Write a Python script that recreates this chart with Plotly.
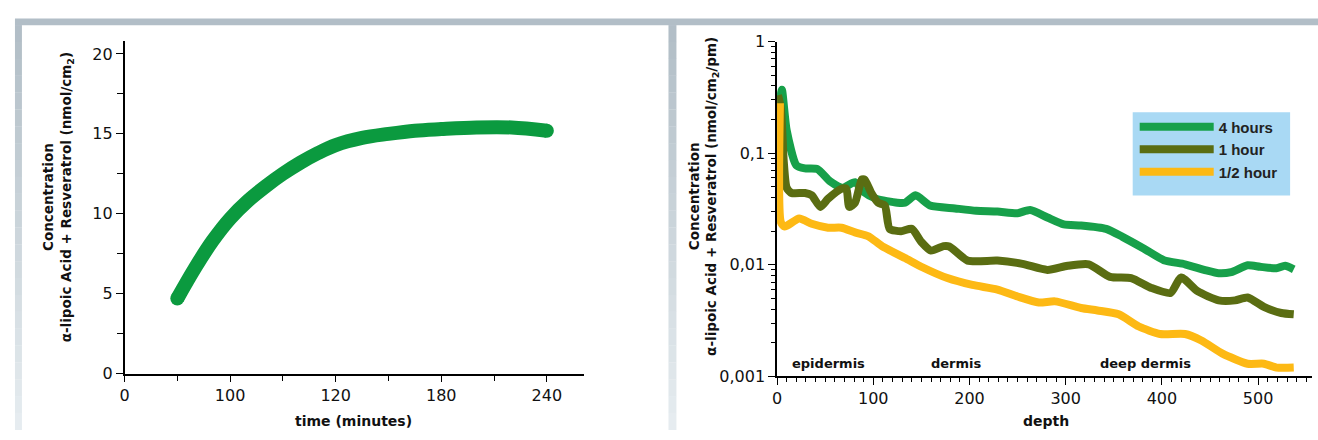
import plotly.graph_objects as go

# ---- Left chart data (time vs concentration) ----
time_min = [30, 40, 50, 60, 70, 80, 90, 100, 110, 120, 135, 150, 165, 180, 200, 220, 240]
conc = [4.7, 6.6, 8.3, 9.7, 10.8, 11.7, 12.5, 13.2, 13.8, 14.3, 14.75, 15.0, 15.2, 15.3, 15.4, 15.4, 15.2]
time_tickvals = [0, 60, 120, 180, 240]
time_ticktext = ["0", "100", "120", "180", "240"]

# ---- Right chart data (depth profiles) ----
depth_4h = [3, 5, 10, 20, 29, 42, 55, 68, 81, 90, 103, 125, 133, 144, 159, 185, 207, 229, 250, 263,
            281, 298, 316, 342, 359, 381, 402, 424, 446, 459, 472, 489, 502, 519, 528, 537]
val_4h = [0.30, 0.37, 0.16, 0.078, 0.073, 0.072, 0.056, 0.049, 0.055, 0.045, 0.039, 0.036, 0.036,
          0.042, 0.034, 0.032, 0.0305, 0.030, 0.029, 0.031, 0.0265, 0.023, 0.0225, 0.021, 0.0178,
          0.014, 0.011, 0.0101, 0.0089, 0.0084, 0.0086, 0.0099, 0.0096, 0.0093, 0.0098, 0.0091]

depth_1h = [1, 4, 7, 10, 15, 29, 36, 45, 53, 67, 72, 75, 81, 88, 91, 98, 105, 112, 117, 129, 140,
            150, 160, 173, 179, 198, 229, 255, 281, 302, 324, 346, 368, 389, 409, 420, 437, 459, 476,
            489, 506, 524, 537]
val_1h = [0.33, 0.25, 0.083, 0.049, 0.044, 0.044, 0.042, 0.033, 0.039, 0.048, 0.048, 0.033, 0.036,
          0.058, 0.058, 0.044, 0.036, 0.034, 0.021, 0.020, 0.021, 0.016, 0.0134, 0.0147, 0.0146,
          0.0109, 0.0109, 0.0102, 0.0090, 0.0098, 0.0101, 0.0078, 0.0076, 0.0062, 0.0056, 0.0077,
          0.0058, 0.0048, 0.0048, 0.0051, 0.0042, 0.0037, 0.0036]

depth_half = [3, 4, 8, 23, 36, 53, 67, 81, 95, 109, 133, 151, 177, 203, 229, 250, 272, 289, 316,
              333, 355, 376, 398, 424, 441, 463, 489, 506, 519, 537]
val_half = [0.28, 0.024, 0.022, 0.026, 0.0233, 0.0215, 0.0215, 0.0195, 0.018, 0.0147, 0.0115,
            0.0095, 0.0076, 0.0066, 0.0060, 0.0052, 0.0046, 0.0047, 0.0041, 0.0039, 0.0036, 0.0028,
            0.0024, 0.0024, 0.0021, 0.0016, 0.0013, 0.0013, 0.0012, 0.0012]

series_names = ["4 hours", "1 hour", "1/2 hour"]
log_tickvals = [0.001, 0.01, 0.1, 1]
log_ticktext = ["0,001", "0,01", "0,1", "1"]
log_minorvals = [m * d for d in (0.001, 0.01, 0.1) for m in range(2, 10)]
zone_labels = ["epidermis", "dermis", "deep dermis"]
zone_depths = [53, 186, 383]

GREEN_L = "#0b9a3f"
GREEN = "#17a04a"
OLIVE = "#5a6d12"
YELLOW = "#fdb914"
LEGEND_BG = "#a9d9f4"
FONT = "DejaVu Sans"

W, H = 1318, 440

def px(x):
    return x / W

def py(y):
    return 1 - y / H

fig = go.Figure()

# left curve
fig.add_trace(go.Scatter(x=time_min, y=conc, mode="lines", line=dict(color=GREEN_L, width=14, shape="spline"),
                         showlegend=False, xaxis="x", yaxis="y", hoverinfo="skip"))
fig.add_trace(go.Scatter(x=[time_min[0], time_min[-1]], y=[conc[0], conc[-1]], mode="markers",
                         marker=dict(color=GREEN_L, size=14), showlegend=False, xaxis="x", yaxis="y",
                         hoverinfo="skip"))

# right curves
for d, v, name, col in [(depth_4h, val_4h, series_names[0], GREEN),
                        (depth_1h, val_1h, series_names[1], OLIVE),
                        (depth_half, val_half, series_names[2], YELLOW)]:
    fig.add_trace(go.Scatter(x=d, y=v, mode="lines", name="<b>%s</b>" % name, legendgroup=name,
                             line=dict(color=col, width=8, shape="spline", smoothing=0.6),
                             xaxis="x2", yaxis="y2"))

axis_common = dict(showline=True, linecolor="black", linewidth=1.5, showgrid=False, zeroline=False,
                   ticks="outside", tickcolor="black", tickwidth=1.2,
                   tickfont=dict(family=FONT, size=16, color="#111"))

fig.update_layout(
    width=W, height=H, autosize=False,
    margin=dict(l=0, r=0, t=0, b=0),
    paper_bgcolor="white", plot_bgcolor="white",
    xaxis=dict(domain=[px(120), px(581)], range=[0, 261], tickmode="array",
               tickvals=time_tickvals, ticktext=time_ticktext, ticklen=7,
               minor=dict(dtick=30, tick0=0, ticks="outside", ticklen=6, tickcolor="black"),
               anchor="y", **axis_common),
    yaxis=dict(domain=[py(381), py(33)], range=[0, 20.84], tickmode="array",
               tickvals=[0, 5, 10, 15, 20], ticklen=7,
               minor=dict(dtick=2.5, tick0=0, ticks="outside", ticklen=6, tickcolor="black"),
               anchor="x", **axis_common),
    xaxis2=dict(domain=[px(775), px(1312)], range=[0, 556], tickmode="array",
                tickvals=[0, 100, 200, 300, 400, 500], ticklen=7,
                minor=dict(dtick=10, tick0=0, ticks="outside", ticklen=4, tickcolor="black"),
                anchor="y2", **axis_common),
    yaxis2=dict(domain=[py(384), py(34)], type="log", range=[-3, 0], tickmode="array",
                tickvals=log_tickvals, ticktext=log_ticktext, ticklen=7,
                minor=dict(tickmode="array", tickvals=log_minorvals, ticks="outside", ticklen=4,
                           tickcolor="black"),
                anchor="x2", **axis_common),
    legend=dict(x=px(1134), y=py(106), xanchor="left", yanchor="top",
                bgcolor="rgba(0,0,0,0)", borderwidth=0, itemwidth=74, tracegroupgap=15,
                font=dict(family="Liberation Sans", size=15, color="#222"),
                traceorder="normal"),
    showlegend=True,
)

# frame strips (gradient from top to bottom) and legend box
steps = 24
c0 = (178, 190, 199)
c1 = (230, 236, 240)
shapes = []
shapes.append(dict(type="rect", xref="paper", yref="paper", x0=px(10), x1=1, y0=py(17), y1=py(10),
                   fillcolor="rgb(%d,%d,%d)" % c0, line=dict(width=0), layer="below"))
for i in range(steps):
    yt = 17 + (H - 17) * i / steps
    yb = 17 + (H - 17) * (i + 1) / steps
    t = i / (steps - 1)
    col = "rgb(%d,%d,%d)" % tuple(int(c0[k] + (c1[k] - c0[k]) * t) for k in range(3))
    for xa, xb in [(10, 17), (666, 674)]:
        shapes.append(dict(type="rect", xref="paper", yref="paper", x0=px(xa), x1=px(xb),
                           y0=py(yb), y1=py(yt) + 0.0005, fillcolor=col, line=dict(width=0), layer="below"))
shapes.append(dict(type="rect", xref="paper", yref="paper", x0=px(1132), x1=px(1290), y0=py(195), y1=py(108),
                   fillcolor=LEGEND_BG, line=dict(width=0), layer="above"))
fig.update_layout(shapes=shapes)

ann = []
title_font = dict(family=FONT, size=13.5, color="#111")
# left y title
ann.append(dict(xref="paper", yref="paper", x=px(53), y=py(197), text="<b>Concentration<br>α-lipoic Acid + Resveratrol (nmol/cm<sub>2</sub>)</b>",
                textangle=-90, showarrow=False, font=title_font, xanchor="center", yanchor="middle"))
# right y title
ann.append(dict(xref="paper", yref="paper", x=px(701), y=py(196), text="<b>Concentration<br>α-lipoic Acid + Resveratrol (nmol/cm<sub>2</sub>/pm)</b>",
                textangle=-90, showarrow=False, font=title_font, xanchor="center", yanchor="middle"))
# x titles
ann.append(dict(xref="paper", yref="paper", x=px(350), y=py(431), text="<b>time (minutes)</b>",
                showarrow=False, font=dict(family=FONT, size=14, color="#111"), xanchor="center", yanchor="middle"))
ann.append(dict(xref="paper", yref="paper", x=px(1045), y=py(431), text="<b>depth</b>",
                showarrow=False, font=dict(family=FONT, size=14, color="#111"), xanchor="center", yanchor="middle"))
# zone labels
for lab, dx in zip(zone_labels, zone_depths):
    ann.append(dict(xref="x2", yref="paper", x=dx, y=py(370), text="<b>%s</b>" % lab, showarrow=False,
                    font=dict(family=FONT, size=13, color="#111"), xanchor="center", yanchor="middle"))
fig.update_layout(annotations=ann)

css_js = (
    "var s=document.createElement('style');"
    "s.textContent='html,body{margin:0!important;padding:0!important;overflow:hidden!important;"
    "width:1318px;height:440px;}body>div{position:absolute;left:0;top:0;width:1318px;height:440px;overflow:hidden;}';"
    "document.head.appendChild(s);"
)
fig.write_html("out.html", config={"displayModeBar": False}, post_script=css_js)
